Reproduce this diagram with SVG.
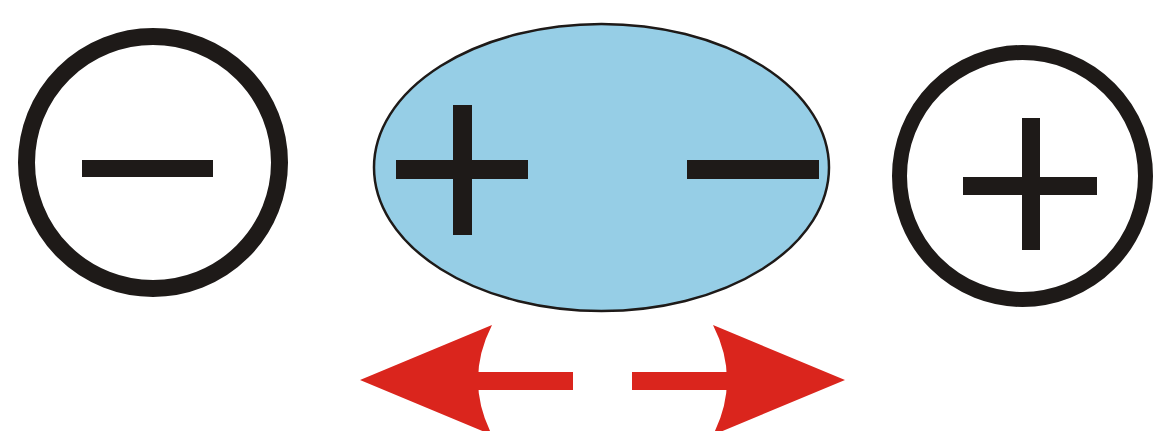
<svg xmlns="http://www.w3.org/2000/svg" width="1164" height="431" viewBox="0 0 1164 431">
  <style>
    .ring { fill: none; stroke: #1e1a18; }
    .bar { fill: #1e1a18; }
    .arrow { fill: #da251d; }
  </style>
  <rect width="1164" height="431" fill="#ffffff"/>
  <g id="negative-charge">
    <ellipse class="ring" cx="153" cy="162.5" rx="126.5" ry="126" stroke-width="17"/>
    <rect class="bar" x="82" y="160" width="131" height="17"/>
  </g>
  <g id="dipole">
    <ellipse cx="601.5" cy="167.5" rx="227.5" ry="143.5" fill="#96cee6" stroke="#1e1a18" stroke-width="2.5"/>
    <rect class="bar" x="396" y="160" width="132" height="19"/>
    <rect class="bar" x="453" y="105" width="19" height="130"/>
    <rect class="bar" x="687" y="160" width="132" height="19"/>
  </g>
  <g id="positive-charge">
    <ellipse class="ring" cx="1022.5" cy="176" rx="123" ry="123.5" stroke-width="15"/>
    <rect class="bar" x="963" y="177" width="134" height="18"/>
    <rect class="bar" x="1022" y="118" width="18" height="132"/>
  </g>
  <g id="connectors">
    <path class="arrow" d="M360 380 L492 325 Q464 380 492 435 Z"/>
    <rect class="arrow" x="475" y="372" width="98" height="18"/>
    <path class="arrow" d="M845 380 L713 325 Q741 380 713 435 Z"/>
    <rect class="arrow" x="632" y="372" width="98" height="18"/>
  </g>
</svg>
